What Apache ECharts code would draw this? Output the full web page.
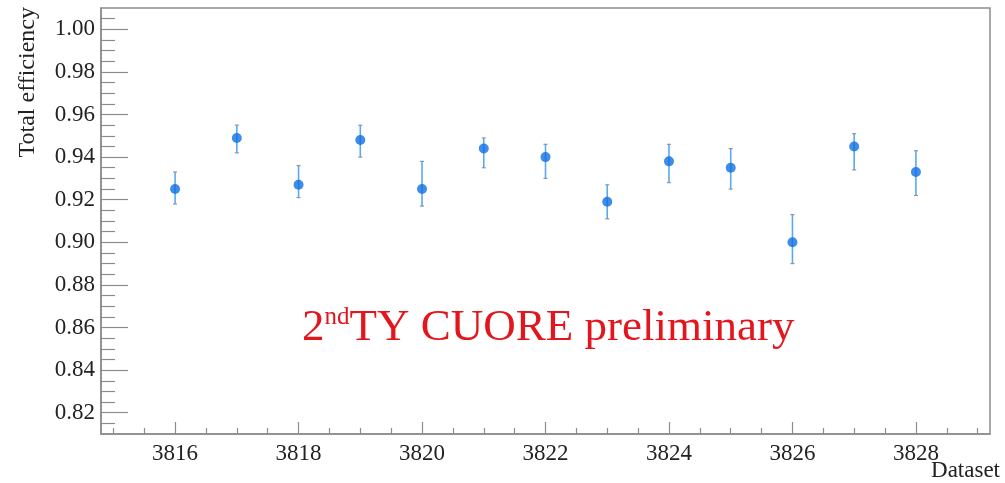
<!DOCTYPE html>
<html>
<head>
<meta charset="utf-8">
<script src="https://cdn.jsdelivr.net/npm/echarts@6/dist/echarts.min.js"></script>
<style>html,body{margin:0;padding:0;background:#fff}#c{width:1005px;height:483px}</style>
</head>
<body>
<div id="c"></div>
<script>
const datasets   = [3816, 3817, 3818, 3819, 3820, 3821, 3822, 3823, 3824, 3825, 3826, 3827, 3828];
const efficiency = [0.925, 0.949, 0.927, 0.948, 0.925, 0.944, 0.940, 0.919, 0.938, 0.935, 0.900, 0.945, 0.933];
const errLow     = [0.918, 0.942, 0.921, 0.940, 0.917, 0.935, 0.930, 0.911, 0.928, 0.925, 0.890, 0.934, 0.922];
const errHigh    = [0.933, 0.955, 0.936, 0.955, 0.938, 0.949, 0.946, 0.927, 0.946, 0.944, 0.913, 0.951, 0.943];
const xMajorTicks = [3816, 3818, 3820, 3822, 3824, 3826, 3828];
const xMinorTicks = [3815, 3815.5, 3816.5, 3817, 3817.5, 3818.5, 3819, 3819.5, 3820.5, 3821, 3821.5, 3822.5, 3823, 3823.5, 3824.5, 3825, 3825.5, 3826.5, 3827, 3827.5, 3828.5, 3829];
const yMajorTicks = [0.82, 0.84, 0.86, 0.88, 0.90, 0.92, 0.94, 0.96, 0.98, 1.00];
const yMinorTicks = [0.815, 0.825, 0.83, 0.835, 0.845, 0.85, 0.855, 0.865, 0.87, 0.875, 0.885, 0.89, 0.895, 0.905, 0.91, 0.915, 0.925, 0.93, 0.935, 0.945, 0.95, 0.955, 0.965, 0.97, 0.975, 0.985, 0.99, 0.995, 1.005];
const xRange = [3814.8, 3829.2];
const yRange = [0.81, 1.01];
const yTitle = 'Total efficiency';
const xTitle = 'Dataset';

const serif = "'Liberation Serif', 'DejaVu Serif', serif";
const axisGray = '#8c8c8c';

const chart = echarts.init(document.getElementById('c'), null, {renderer: 'canvas'});
const pointData = datasets.map((d, i) => [d, efficiency[i]]);
const errData = datasets.map((d, i) => [d, errLow[i], errHigh[i]]);

chart.setOption({
  animation: false,
  backgroundColor: '#fff',
  grid: {left: 101, right: 15, top: 8, bottom: 49, show: true, borderColor: axisGray, borderWidth: 1.5, backgroundColor: 'transparent'},
  xAxis: [{
    type: 'value', min: xRange[0], max: xRange[1],
    axisLine: {show: true, lineStyle: {color: axisGray, width: 1.5}},
    axisTick: {show: true, inside: true, length: 12, customValues: xMajorTicks, lineStyle: {color: axisGray, width: 1.2}},
    axisLabel: {show: true, customValues: xMajorTicks, margin: 8, color: '#222', fontFamily: serif, fontSize: 23, formatter: v => String(Math.round(v))},
    splitLine: {show: false}
  }, {
    type: 'value', min: xRange[0], max: xRange[1], position: 'bottom',
    axisLine: {show: false},
    axisTick: {show: true, inside: true, length: 6, customValues: xMinorTicks, lineStyle: {color: axisGray, width: 1.2}},
    axisLabel: {show: false},
    splitLine: {show: false}
  }],
  yAxis: [{
    type: 'value', min: yRange[0], max: yRange[1],
    axisLine: {show: true, lineStyle: {color: axisGray, width: 1.5}},
    axisTick: {show: true, inside: true, length: 27, customValues: yMajorTicks, lineStyle: {color: axisGray, width: 1.2}},
    axisLabel: {show: true, customValues: yMajorTicks, margin: 6, color: '#222', fontFamily: serif, fontSize: 23, formatter: v => v.toFixed(2)},
    splitLine: {show: false}
  }, {
    type: 'value', min: yRange[0], max: yRange[1], position: 'left',
    axisLine: {show: false},
    axisTick: {show: true, inside: true, length: 14, customValues: yMinorTicks, lineStyle: {color: axisGray, width: 1.2}},
    axisLabel: {show: false},
    splitLine: {show: false}
  }],
  series: [{
    type: 'custom',
    xAxisIndex: 0, yAxisIndex: 0,
    data: errData,
    renderItem: function (params, api) {
      const x = api.value(0);
      const lo = api.coord([x, api.value(1)]);
      const hi = api.coord([x, api.value(2)]);
      const cap = 2;
      return {
        type: 'group',
        children: [
          {type: 'line', shape: {x1: lo[0], y1: lo[1], x2: hi[0], y2: hi[1]}, style: {stroke: '#5aa9ee', lineWidth: 1.6}},
          {type: 'line', shape: {x1: lo[0] - cap, y1: lo[1], x2: lo[0] + cap, y2: lo[1]}, style: {stroke: '#8a96a8', lineWidth: 1.2}},
          {type: 'line', shape: {x1: hi[0] - cap, y1: hi[1], x2: hi[0] + cap, y2: hi[1]}, style: {stroke: '#8a96a8', lineWidth: 1.2}}
        ]
      };
    },
    z: 2
  }, {
    type: 'scatter',
    xAxisIndex: 0, yAxisIndex: 0,
    data: pointData,
    symbol: 'circle', symbolSize: 10,
    itemStyle: {color: '#0f6fe3'},
    z: 3
  }],
  graphic: [{
    type: 'text', x: 28, y: 7, rotation: Math.PI / 2,
    style: {text: yTitle, font: '24px ' + serif, fill: '#222', align: 'right', verticalAlign: 'middle'}
  }, {
    type: 'text', x: 1000, y: 471,
    style: {text: xTitle, font: '23px ' + serif, fill: '#222', align: 'right', verticalAlign: 'middle'}
  }, {
    type: 'text', x: 302, y: 328,
    style: {
      text: '{a|2}{b|nd}{a|TY CUORE preliminary}',
      align: 'left', verticalAlign: 'middle',
      rich: {
        a: {fontSize: 45, fontFamily: serif, fill: '#e3151d', color: '#e3151d', lineHeight: 46, verticalAlign: 'bottom'},
        b: {fontSize: 25, fontFamily: serif, fill: '#e3151d', color: '#e3151d', lineHeight: 46, verticalAlign: 'top', padding: [0, 0, 20, 0]}
      }
    }
  }]
});
</script>
</body>
</html>
